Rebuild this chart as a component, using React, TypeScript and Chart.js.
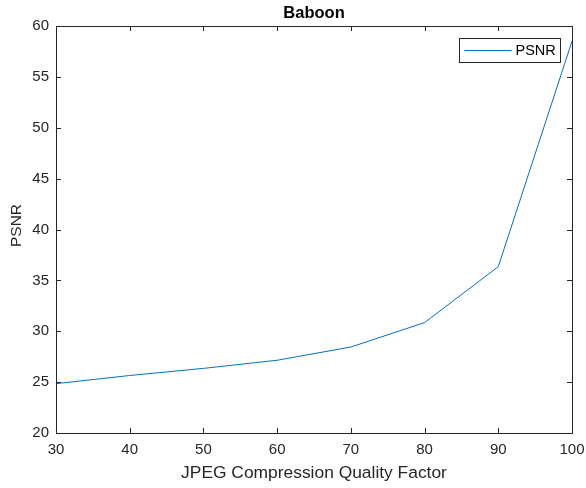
import React, { useEffect, useRef } from "react";
import { Chart, registerables } from "chart.js";

Chart.register(...registerables);

const qualityFactors = [30, 40, 50, 60, 70, 80, 90, 100];
const psnrValues = [24.85, 25.65, 26.35, 27.15, 28.45, 30.85, 36.35, 58.5];
const xTicks = [30, 40, 50, 60, 70, 80, 90, 100];
const yTicks = [20, 25, 30, 35, 40, 45, 50, 55, 60];
const titleText = "Baboon";
const xLabel = "JPEG Compression Quality Factor";
const yLabel = "PSNR";
const seriesName = "PSNR";

const FONT = "'Liberation Sans', Arial, Helvetica, sans-serif";
const AXIS = "#262626";
const LINE = "#0072BD";

const matlabPlugin = {
  id: "matlabDecor",
  afterDraw(chart: any) {
    const { ctx, chartArea } = chart;
    const { left, right, top, bottom } = chartArea;
    const xs = chart.scales.x;
    const ys = chart.scales.y;
    ctx.save();
    // box
    ctx.strokeStyle = AXIS;
    ctx.lineWidth = 1;
    ctx.strokeRect(Math.round(left) + 0.5, Math.round(top) + 0.5, Math.round(right - left), Math.round(bottom - top));
    // ticks inside
    const tl = 5;
    ctx.beginPath();
    xTicks.forEach((v) => {
      const x = Math.round(xs.getPixelForValue(v)) + 0.5;
      ctx.moveTo(x, bottom);
      ctx.lineTo(x, bottom - tl);
      ctx.moveTo(x, top);
      ctx.lineTo(x, top + tl);
    });
    yTicks.forEach((v) => {
      const y = Math.round(ys.getPixelForValue(v)) + 0.5;
      ctx.moveTo(left, y);
      ctx.lineTo(left + tl, y);
      ctx.moveTo(right, y);
      ctx.lineTo(right - tl, y);
    });
    ctx.stroke();
    // tick labels
    ctx.fillStyle = AXIS;
    ctx.font = `15px ${FONT}`;
    ctx.textAlign = "center";
    ctx.textBaseline = "middle";
    xTicks.forEach((v) => {
      ctx.fillText(String(v), xs.getPixelForValue(v), bottom + 17);
    });
    ctx.textAlign = "right";
    yTicks.forEach((v) => {
      ctx.fillText(String(v), left - 7, ys.getPixelForValue(v));
    });
    // title
    ctx.font = `bold 16.5px ${FONT}`;
    ctx.textAlign = "center";
    ctx.fillStyle = "#000";
    ctx.fillText(titleText, (left + right) / 2, top - 13);
    // axis labels
    ctx.fillStyle = AXIS;
    ctx.font = `17.4px ${FONT}`;
    ctx.fillText(xLabel, (left + right) / 2, bottom + 40);
    ctx.save();
    ctx.font = `15.5px ${FONT}`;
    ctx.translate(17, (top + bottom) / 2 - 4);
    ctx.rotate(-Math.PI / 2);
    ctx.fillText(yLabel, 0, 0);
    ctx.restore();
    // legend
    const lx = 459.5, ly = 38.5, lw = 101, lh = 24;
    ctx.fillStyle = "#fff";
    ctx.fillRect(lx, ly, lw, lh);
    ctx.strokeStyle = AXIS;
    ctx.strokeRect(lx, ly, lw, lh);
    ctx.strokeStyle = LINE;
    ctx.beginPath();
    ctx.moveTo(lx + 5, ly + lh / 2);
    ctx.lineTo(lx + 52, ly + lh / 2);
    ctx.stroke();
    ctx.fillStyle = "#000";
    ctx.font = `14.5px ${FONT}`;
    ctx.textAlign = "left";
    ctx.fillText(seriesName, lx + 56, ly + lh / 2 + 0.5);
    ctx.restore();
  },
};

export default function App() {
  const ref = useRef<HTMLCanvasElement>(null);
  useEffect(() => {
    document.body.style.margin = "0";
    const chart = new Chart(ref.current!, {
      type: "line",
      data: {
        datasets: [
          {
            label: seriesName,
            data: qualityFactors.map((x, i) => ({ x, y: psnrValues[i] })),
            borderColor: LINE,
            borderWidth: 1,
            pointRadius: 0,
            fill: false,
            tension: 0,
          },
        ],
      },
      options: {
        animation: false,
        responsive: false,
        maintainAspectRatio: false,
        layout: { padding: { top: 26, right: 14, left: 0, bottom: 0 } },
        plugins: { legend: { display: false }, title: { display: false }, tooltip: { enabled: false } },
        scales: {
          x: {
            type: "linear",
            min: 30,
            max: 100,
            ticks: { display: false, stepSize: 10 },
            grid: { display: false },
            border: { display: false },
            afterFit: (s: any) => { s.height = 55; },
          },
          y: {
            type: "linear",
            min: 20,
            max: 60,
            ticks: { display: false, stepSize: 5 },
            grid: { display: false },
            border: { display: false },
            afterFit: (s: any) => { s.width = 56; },
          },
        },
      },
      plugins: [matlabPlugin],
    });
    return () => chart.destroy();
  }, []);
  return <canvas ref={ref} width={586} height={488} style={{ display: "block" }} />;
}
